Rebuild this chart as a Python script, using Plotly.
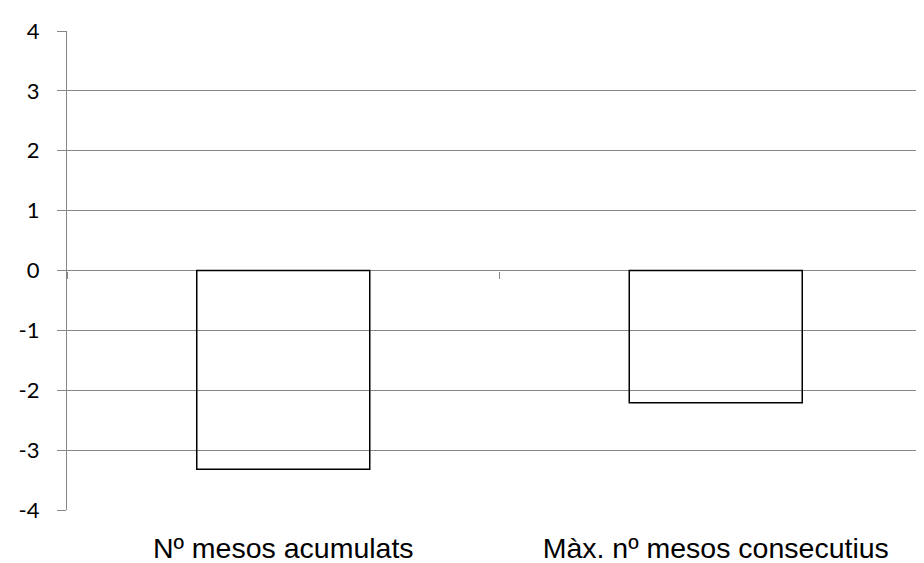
import plotly.graph_objects as go

categories = ["Nº mesos acumulats", "Màx. nº mesos consecutius"]
values = [-3.32, -2.21]
y_ticks = [-4, -3, -2, -1, 0, 1, 2, 3, 4]
y_tick_labels = ["-4", "-3", "-2", "-1", "0", "1", "2", "3", "4"]

GRID = "#868686"

fig = go.Figure()
fig.add_trace(go.Bar(
    x=categories, y=values,
    marker=dict(color="rgba(0,0,0,0)", line=dict(color="black", width=1.5)),
    width=0.4, hoverinfo="x+y",
))
# invisible copy carrying the category axis drawn at y = 0
fig.add_trace(go.Bar(
    x=categories, y=values, xaxis="x2",
    marker=dict(color="rgba(0,0,0,0)", line=dict(width=0)),
    width=0.4, hoverinfo="skip",
))

fig.update_layout(
    width=924, height=563,
    margin=dict(l=59, r=0, t=23, b=61),
    paper_bgcolor="white", plot_bgcolor="white",
    showlegend=False,
    xaxis=dict(
        type="category", range=[-0.5, 1.5],
        showgrid=False, showline=False, ticks="", zeroline=False,
        tickfont=dict(family="Liberation Sans, Arial", size=28.5, color="black"),
        ticklabelstandoff=18,
    ),
    xaxis2=dict(
        type="category", overlaying="x", anchor="free", position=0.5, side="bottom",
        range=[-0.5, 1.5], tickson="boundaries",
        ticks="outside", ticklen=7, tickwidth=1.3, tickcolor=GRID,
        showticklabels=False, showgrid=False, showline=False, zeroline=False,
    ),
    yaxis=dict(
        range=[-4, 4], tickmode="array", tickvals=y_ticks, ticktext=y_tick_labels,
        showgrid=True, gridcolor=GRID, gridwidth=1.3,
        zeroline=True, zerolinecolor=GRID, zerolinewidth=1.3,
        showline=True, linecolor=GRID, linewidth=1.3,
        ticks="outside", ticklen=9, tickwidth=1.3, tickcolor=GRID,
        tickfont=dict(family="Lato, Open Sans", size=22, color="black"),
        ticklabelstandoff=13,
    ),
)

fig.write_html("out.html")
